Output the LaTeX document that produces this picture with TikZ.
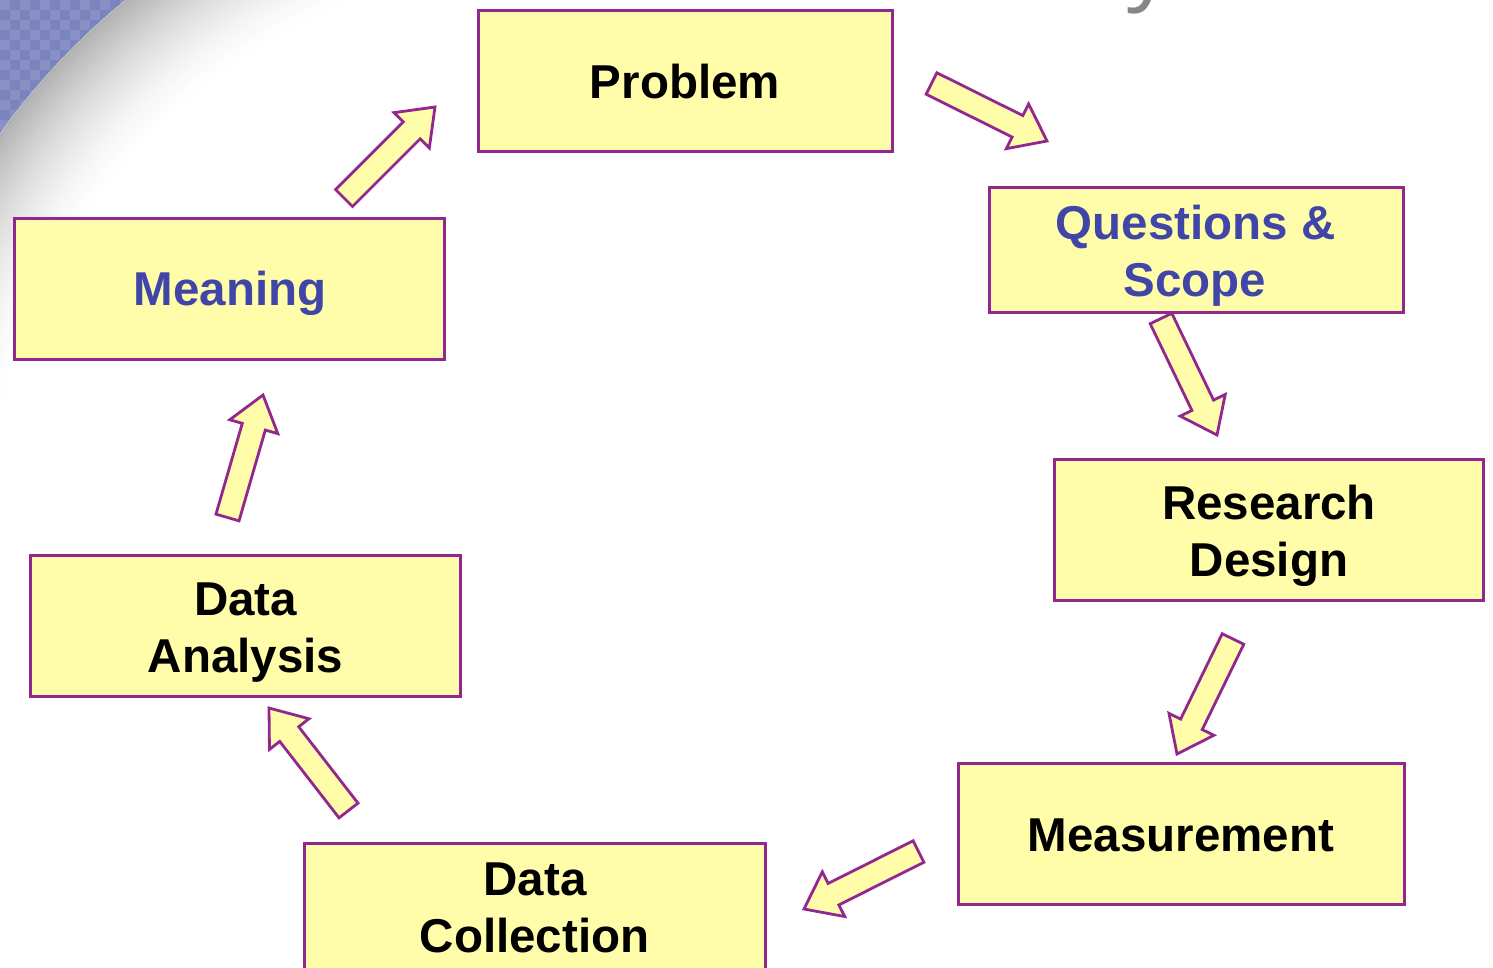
\documentclass[tikz,border=0pt]{standalone}
\usepackage{fontspec}
\setmainfont{Liberation Sans}
\newfontfamily\titlefont{Open Sans}
\usetikzlibrary{calc}
\definecolor{boxfill}{RGB}{255,252,170}
\definecolor{boxline}{RGB}{146,39,143}
\definecolor{txtblue}{RGB}{64,70,168}
\definecolor{cornerblue}{RGB}{124,132,190}
\definecolor{cornerlight}{RGB}{136,144,198}
\definecolor{titlegray}{RGB}{135,135,135}
\tikzset{
  box/.style={draw=boxline, fill=boxfill, line width=3pt, inner sep=0pt},
  lbl/.style={font=\fontsize{47.5}{57}\selectfont\bfseries, anchor=base, inner sep=0pt},
  bluelbl/.style={lbl, text=txtblue},
  barrow/.style={draw=boxline, fill=boxfill, line width=2.8pt, line join=miter}
}
\newcommand{\blockarrow}[2]{%
  \coordinate (#1-H) at ($(#2)!33pt!(#1)$);
  \filldraw[barrow] ($(#1)!12pt!90:(#2)$) -- ($(#1-H)!12pt!90:(#2)$)
    -- ($(#1-H)!25pt!90:(#2)$) -- (#2) -- ($(#1-H)!25pt!-90:(#2)$)
    -- ($(#1-H)!12pt!-90:(#2)$) -- ($(#1)!12pt!-90:(#2)$) -- cycle;}
\begin{document}
\begin{tikzpicture}[x=1pt,y=-1pt]
\useasboundingbox (0,0) rectangle (1493,967);
% background corner
\fill[cornerblue] (0,0) rectangle (220,220);
\foreach \i in {0,...,21}{\foreach \j in {0,...,21}{%
  \pgfmathtruncatemacro\k{\i+\j}%
  \ifodd\k\else\fill[cornerlight] (10*\i,10*\j) rectangle ++(10,10);\fi}}
\fill[white] (559,533) circle[radius=687pt];
\begin{scope}
  \clip (0,0) rectangle (460,460);
  \foreach \i in {0,...,34}{%
    \pgfmathsetmacro\g{30*(1-\i/35)^1.6}%
    \draw[black!\g, line width=3.6pt] (559,533) circle[radius={685pt-3.4pt*\i}];}
\end{scope}
\node[font=\titlefont\fontsize{90}{100}\selectfont, text=titlegray, anchor=base west, inner sep=0pt] (ttl) at (1127,-8) {y};
% boxes
\node[box, minimum width=414pt, minimum height=141pt] (prob) at (685,80.5) {};
\node[box, minimum width=414pt, minimum height=125pt] (qs) at (1196,249.5) {};
\node[box, minimum width=429pt, minimum height=141pt] (rd) at (1268.5,529.5) {};
\node[box, minimum width=446pt, minimum height=141pt] (meas) at (1181,833.5) {};
\node[box, minimum width=461pt, minimum height=126pt] (dc) at (534.5,906) {};
\node[box, minimum width=430pt, minimum height=141pt] (da) at (245,625.5) {};
\node[box, minimum width=430pt, minimum height=141pt] (mean) at (229,288.5) {};
% labels
\node[lbl] (probt) at (685,98) {Problem};
\node[bluelbl] (qst1) at (1195.5,239.5) {Questions \&};
\node[bluelbl] (qst2) at (1195,296.5) {Scope};
\node[lbl] (rdt1) at (1269,519) {Research};
\node[lbl] (rdt2) at (1269,576) {Design};
\node[lbl] (meast) at (1181,851) {Measurement};
\node[lbl] (dct1) at (535,895) {Data};
\node[lbl] (dct2) at (534.5,952) {Collection};
\node[lbl] (dat1) at (245.5,615) {Data};
\node[lbl] (dat2) at (245.5,672) {Analysis};
\node[bluelbl] (meant) at (230,305) {Meaning};
% arrows
\coordinate (a1t) at (931.5,83.5);  \coordinate (a1h) at (1047,141);
\coordinate (a2t) at (1161,318.5);  \coordinate (a2h) at (1217,435);
\coordinate (a3t) at (1233,639);    \coordinate (a3h) at (1177,754);
\coordinate (a4t) at (918.5,851.5); \coordinate (a4h) at (804,909);
\coordinate (a5t) at (348.5,810.5); \coordinate (a5h) at (269,708);
\coordinate (a6t) at (227.5,517.5); \coordinate (a6h) at (263,395);
\coordinate (a7t) at (344,198);     \coordinate (a7h) at (435,107);
\blockarrow{a1t}{a1h}
\blockarrow{a2t}{a2h}
\blockarrow{a3t}{a3h}
\blockarrow{a4t}{a4h}
\blockarrow{a5t}{a5h}
\blockarrow{a6t}{a6h}
\blockarrow{a7t}{a7h}
\end{tikzpicture}
\end{document}
